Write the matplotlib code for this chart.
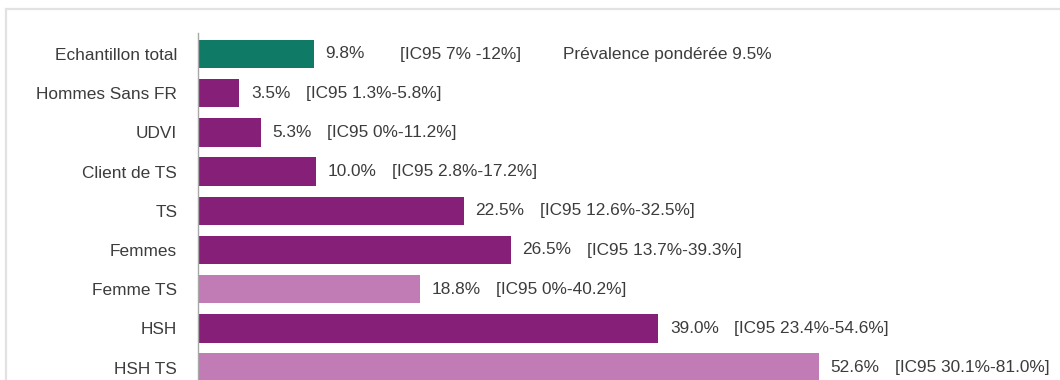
import matplotlib.pyplot as plt
from matplotlib.patches import Rectangle

categories = ["Echantillon total", "Hommes Sans FR", "UDVI", "Client de TS", "TS",
              "Femmes", "Femme TS", "HSH", "HSH TS"]
values = [9.8, 3.5, 5.3, 10.0, 22.5, 26.5, 18.8, 39.0, 52.6]
value_labels = ["9.8%", "3.5%", "5.3%", "10.0%", "22.5%", "26.5%", "18.8%", "39.0%", "52.6%"]
ci_labels = ["[IC95 7% -12%]", "[IC95 1.3%-5.8%]", "[IC95 0%-11.2%]", "[IC95 2.8%-17.2%]",
             "[IC95 12.6%-32.5%]", "[IC95 13.7%-39.3%]", "[IC95 0%-40.2%]",
             "[IC95 23.4%-54.6%]", "[IC95 30.1%-81.0%]"]
groups = ["total", "group", "group", "group", "group", "group", "sub", "group", "sub"]
note = "Prévalence pondérée 9.5%"

colors = {"total": "#0f7a66", "group": "#861f78", "sub": "#c17bb5"}
text_color = "#3c3c3c"
fs = 12.4

plt.rcParams['font.family'] = ['Liberation Sans', 'DejaVu Sans']

W, H = 1060, 380
fig = plt.figure(figsize=(W / 100, H / 100), dpi=100, facecolor="white")

# light frame around the chart (cut by the image edges)
fig.add_artist(Rectangle((6 / W, -0.1), 1.2, 1 - 9 / H + 0.1, transform=fig.transFigure,
                         fill=False, edgecolor="#e2e2e2", linewidth=1.6))

# axes placed in pixel terms: left spine at x=198, top at y=33, runs past bottom edge
left, right = 198, 1050
top, bottom = 33, 400
ax = fig.add_axes([left / W, 1 - bottom / H, (right - left) / W, (bottom - top) / H])

pos = list(range(len(categories)))
ax.barh(pos, values, height=0.72, color=[colors[g] for g in groups])
ax.set_xlim(0, (right - left) / 11.8)
ax.set_ylim((bottom - 54) / 39.2, -(54 - top) / 39.2)

ax.set_yticks(pos)
ax.set_yticklabels(categories, fontsize=fs, color=text_color)
ax.tick_params(axis="y", length=0, pad=15)
ax.set_xticks([])
for s in ["top", "right", "bottom"]:
    ax.spines[s].set_visible(False)
ax.spines["left"].set_color("#a8a8a8")
ax.spines["left"].set_linewidth(1)

for i, (v, vl, ci) in enumerate(zip(values, value_labels, ci_labels)):
    t = ax.annotate(vl, xy=(v, i), xytext=(8.5, 0), textcoords="offset points",
                    va="center", ha="left", fontsize=fs, color=text_color)
    gap = 25 if i == 0 else 11
    ax.annotate(ci, xy=(1, 0.5), xycoords=t, xytext=(gap, 0), textcoords="offset points",
                va="center", ha="left", fontsize=fs, color=text_color)

ax.text(563 / W, 1 - 54 / H, note, transform=fig.transFigure, va="center", ha="left",
        fontsize=fs, color=text_color)

fig.savefig("out.png", dpi=100, facecolor="white")
